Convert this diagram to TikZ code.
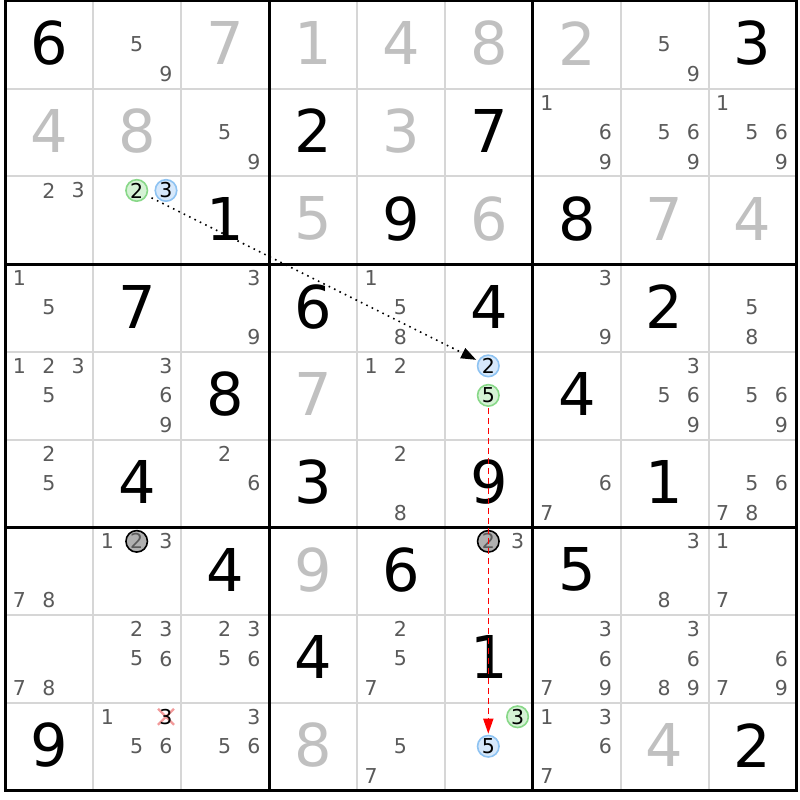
\documentclass[tikz,border=0pt]{standalone}
\usepackage{fontspec}
\setmainfont{DejaVu Sans}
\usetikzlibrary{arrows.meta}
\definecolor{solvedgray}{HTML}{C0C0C0}
\definecolor{candgray}{HTML}{5A5A5A}
\definecolor{thingray}{HTML}{D6D6D6}
\definecolor{bluefill}{HTML}{D6E8FB}
\definecolor{blueline}{HTML}{8EC3F2}
\definecolor{greenfill}{HTML}{D5F2D5}
\definecolor{greenline}{HTML}{88D888}
\definecolor{grayfill}{HTML}{B0B0B0}
\definecolor{strikepink}{HTML}{F29A9A}
\def\xo{5.5}\def\cw{87.9}\def\yo{1}\def\ch{87.72}
\tikzset{
  bigdigit/.style={inner sep=0pt, font=\fontsize{59}{59}\selectfont},
  givendigit/.style={bigdigit, text=black},
  solveddigit/.style={bigdigit, text=solvedgray},
  canddigit/.style={inner sep=0pt, font=\fontsize{20.5}{20.5}\selectfont, text=candgray},
  markbase/.style={canddigit, circle, line width=1.6pt, minimum size=21.5pt, text=black},
  bluemark/.style={markbase, draw=blueline, fill=bluefill},
  greenmark/.style={markbase, draw=greenline, fill=greenfill},
  graymark/.style={markbase, draw=black, fill=grayfill, text=candgray},
  struckdigit/.style={canddigit, text=black},
  strikeline/.style={draw=strikepink, line width=2.2pt},
  thinline/.style={draw=thingray, line width=2pt},
  thickline/.style={draw=black, line width=3pt},
  dotarrow/.style={draw=black, line width=1.6pt, dash pattern=on 1.6pt off 4.4pt,
    -{Triangle[length=15pt,width=11pt]}, shorten <=5pt, shorten >=2pt},
  redarrow/.style={draw=red, line width=1.6pt, dash pattern=on 6pt off 4pt,
    -{Triangle[length=15pt,width=10pt]}, shorten <=1pt, shorten >=1pt},
}
\newcommand\Gv[3]{\node[givendigit] (g-#1-#2) at ({\xo+(#2+0.5)*\cw},{\yo+(#1+0.5)*\ch-1.5}) {#3};}
\newcommand\Sv[3]{\node[solveddigit] (s-#1-#2) at ({\xo+(#2+0.5)*\cw},{\yo+(#1+0.5)*\ch-1.5}) {#3};}
\newcommand\Cd[4][canddigit]{\node[#1] (k-#2-#3-#4) at ({\xo+#3*\cw+14+29.3*mod(#4-1,3)},{\yo+#2*\ch+14+29.5*floor((#4-1)/3)}) {#4};}
\newcommand\Cs[3]{\foreach \dg in {#3}{\Cd{#1}{#2}{\dg}}}
\begin{document}
\begin{tikzpicture}[x=1pt,y=-1pt]
\useasboundingbox (0,0) rectangle (800,800);
\fill[white] (0,0) rectangle (800,800);
% thin grid lines
\foreach \i in {1,2,4,5,7,8}{
  \path[thinline] ({\xo+\i*\cw},{\yo}) -- ({\xo+\i*\cw},{\yo+9*\ch});
  \path[thinline] ({\xo},{\yo+\i*\ch}) -- ({\xo+9*\cw},{\yo+\i*\ch});
}
% thick grid lines
\foreach \i in {3,6}{
  \path[thickline] ({\xo+\i*\cw},{\yo}) -- ({\xo+\i*\cw},{\yo+9*\ch});
  \path[thickline] ({\xo},{\yo+\i*\ch}) -- ({\xo+9*\cw},{\yo+\i*\ch});
}
\path[thickline] ({\xo},{\yo}) rectangle ({\xo+9*\cw},{\yo+9*\ch});
% row 0
\Gv{0}{0}{6} \Cs{0}{1}{5,9} \Sv{0}{2}{7} \Sv{0}{3}{1} \Sv{0}{4}{4} \Sv{0}{5}{8} \Sv{0}{6}{2} \Cs{0}{7}{5,9} \Gv{0}{8}{3}
% row 1
\Sv{1}{0}{4} \Sv{1}{1}{8} \Cs{1}{2}{5,9} \Gv{1}{3}{2} \Sv{1}{4}{3} \Gv{1}{5}{7} \Cs{1}{6}{1,6,9} \Cs{1}{7}{5,6,9} \Cs{1}{8}{1,5,6,9}
% row 2
\Cs{2}{0}{2,3} \Cd[greenmark]{2}{1}{2} \Cd[bluemark]{2}{1}{3} \Gv{2}{2}{1} \Sv{2}{3}{5} \Gv{2}{4}{9} \Sv{2}{5}{6} \Gv{2}{6}{8} \Sv{2}{7}{7} \Sv{2}{8}{4}
% row 3
\Cs{3}{0}{1,5} \Gv{3}{1}{7} \Cs{3}{2}{3,9} \Gv{3}{3}{6} \Cs{3}{4}{1,5,8} \Gv{3}{5}{4} \Cs{3}{6}{3,9} \Gv{3}{7}{2} \Cs{3}{8}{5,8}
% row 4
\Cs{4}{0}{1,2,3,5} \Cs{4}{1}{3,6,9} \Gv{4}{2}{8} \Sv{4}{3}{7} \Cs{4}{4}{1,2} \Cd[bluemark]{4}{5}{2} \Cd[greenmark]{4}{5}{5} \Gv{4}{6}{4} \Cs{4}{7}{3,5,6,9} \Cs{4}{8}{5,6,9}
% row 5
\Cs{5}{0}{2,5} \Gv{5}{1}{4} \Cs{5}{2}{2,6} \Gv{5}{3}{3} \Cs{5}{4}{2,8} \Gv{5}{5}{9} \Cs{5}{6}{6,7} \Gv{5}{7}{1} \Cs{5}{8}{5,6,7,8}
% row 6
\Cs{6}{0}{7,8} \Cs{6}{1}{1,3} \Cd[graymark]{6}{1}{2} \Gv{6}{2}{4} \Sv{6}{3}{9} \Gv{6}{4}{6} \Cd[graymark]{6}{5}{2} \Cs{6}{5}{3} \Gv{6}{6}{5} \Cs{6}{7}{3,8} \Cs{6}{8}{1,7}
% row 7
\Cs{7}{0}{7,8} \Cs{7}{1}{2,3,5,6} \Cs{7}{2}{2,3,5,6} \Gv{7}{3}{4} \Cs{7}{4}{2,5,7} \Gv{7}{5}{1} \Cs{7}{6}{3,6,7,9} \Cs{7}{7}{3,6,8,9} \Cs{7}{8}{6,7,9}
% row 8
\Gv{8}{0}{9} \Cs{8}{1}{1,5,6}
\coordinate (xs) at ({\xo+1*\cw+14+29.3*2},{\yo+8*\ch+14});
\path[strikeline] ([shift={(-8,-8)}]xs) -- ([shift={(8,8)}]xs);
\path[strikeline] ([shift={(-8,8)}]xs) -- ([shift={(8,-8)}]xs);
\node[struckdigit] (k-8-1-3) at (xs) {3};
\Cs{8}{2}{3,5,6} \Sv{8}{3}{8} \Cs{8}{4}{5,7} \Cd[greenmark]{8}{5}{3} \Cd[bluemark]{8}{5}{5} \Cs{8}{6}{1,3,6,7} \Sv{8}{7}{4} \Gv{8}{8}{2}
% chain arrows
\draw[dotarrow] (k-2-1-2) -- (k-4-5-2);
\draw[redarrow] (k-4-5-5) -- (k-8-5-5);
\end{tikzpicture}
\end{document}
